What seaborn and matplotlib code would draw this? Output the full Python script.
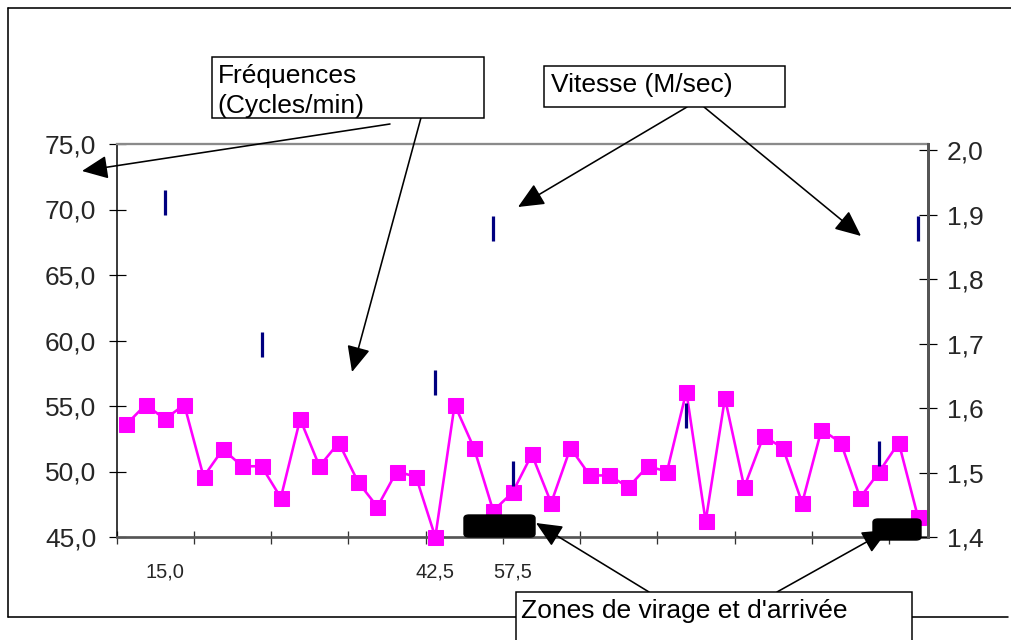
import numpy as np
import pandas as pd
import matplotlib
matplotlib.use("Agg")
import matplotlib.pyplot as plt
import seaborn as sns
from matplotlib.patches import Rectangle, FancyBboxPatch, FancyArrowPatch
from matplotlib.lines import Line2D
from matplotlib.ticker import FuncFormatter

# ---------------- data ----------------
frequences = [53.6, 55.1, 54.0, 55.1, 49.6, 51.7, 50.4, 50.4, 48.0, 54.0,
              50.4, 52.2, 49.2, 47.3, 50.0, 49.6, 45.0, 55.1, 51.8, 47.0,
              48.4, 51.3, 47.6, 51.8, 49.7, 49.7, 48.8, 50.4, 50.0, 56.1,
              46.2, 55.6, 48.8, 52.7, 51.8, 47.6, 53.2, 52.2, 48.0, 50.0,
              52.2, 46.5]
vitesse_idx = [2, 7, 16, 19, 20, 29, 39, 41]
vitesse = [1.92, 1.70, 1.64, 1.88, 1.50, 1.59, 1.53, 1.88]
label_idx = [2, 16, 20]
x_labels = ["15,0", "42,5", "57,5"]
freq_ticks = [45, 50, 55, 60, 65, 70, 75]
speed_ticks = [1.4, 1.5, 1.6, 1.7, 1.8, 1.9, 2.0]

sns.set_style("white")
plt.rcParams["font.family"] = ["Liberation Sans", "DejaVu Sans"]

W, H = 1011, 640
fig = plt.figure(figsize=(W / 100, H / 100), dpi=100)
fig.patch.set_facecolor("white")


def fx(x):
    return x / W


def fy(y):
    return 1 - y / H


PX = 0.72  # px -> pt

ax = fig.add_axes([fx(116.7), fy(537), (927.7 - 116.7) / W, (537 - 144) / H])
n = len(frequences)
df = pd.DataFrame({"i": np.arange(n), "f": frequences})
sns.lineplot(data=df, x="i", y="f", ax=ax, color="#FF00FF", lw=2.6 * PX,
             marker="s", markersize=15 * PX, markeredgecolor="#FF00FF",
             markerfacecolor="#FF00FF", clip_on=False, zorder=3)
ax.set_xlim(-0.5, n - 0.5)
ax.set_ylim(45, 75)
ax.set_xlabel("")
ax.set_ylabel("")

comma = FuncFormatter(lambda v, _: f"{v:.1f}".replace(".", ","))
ax.set_yticks(freq_ticks)
ax.yaxis.set_major_formatter(comma)
ax.tick_params(axis="y", direction="inout", length=17 * PX, width=1.2 * PX,
               color="black", labelsize=19, pad=12 * PX, left=True)
ax.set_xticks(np.arange(-0.5, n, 4))
ax.tick_params(axis="x", which="major", direction="inout", length=13 * PX,
               width=1.3 * PX, color="#333333", labelbottom=False, bottom=True)
ax.set_xticks(label_idx, minor=True)
ax.set_xticklabels(x_labels, minor=True)
ax.tick_params(axis="x", which="minor", length=0, pad=25 * PX, labelsize=14.5)

ax.spines["left"].set_color("black")
ax.spines["left"].set_linewidth(1.5 * PX)
ax.spines["bottom"].set_color("#555555")
ax.spines["bottom"].set_linewidth(2.7 * PX)
ax.spines["top"].set_color("#8a8a8a")
ax.spines["top"].set_linewidth(2.3 * PX)
ax.spines["right"].set_visible(False)

ax2 = ax.twinx()
sns.scatterplot(x=vitesse_idx, y=vitesse, ax=ax2, marker="|", s=(25 * PX) ** 2,
                linewidth=3.2 * PX, color="#000080", zorder=4, legend=False)
ax2.set_ylim(1.4, 2.01)
ax2.set_yticks(speed_ticks)
ax2.yaxis.set_major_formatter(comma)
ax2.tick_params(axis="y", direction="inout", length=18 * PX, width=1.2 * PX,
                color="black", labelsize=19, pad=10 * PX, right=True)
ax2.set_ylabel("")
for s in ["left", "top", "bottom"]:
    ax2.spines[s].set_visible(False)
ax2.spines["right"].set_color("#555555")
ax2.spines["right"].set_linewidth(3 * PX)

# ---------------- outer frame ----------------
for (x0, y0, x1, y1) in [(8, 8, 1011, 8), (8, 8, 8, 617), (8, 617, 1008, 617)]:
    fig.add_artist(Line2D([fx(x0), fx(x1)], [fy(y0), fy(y1)],
                          transform=fig.transFigure, color="black", lw=1.6 * PX))

# ---------------- black zone markers ----------------
for (x0, y0, x1, y1) in [(464, 515, 535, 537), (873, 519, 921, 540)]:
    fig.add_artist(FancyBboxPatch((fx(x0), fy(y1)), fx(x1 - x0), (y1 - y0) / H,
                                  boxstyle="round,pad=0,rounding_size=0.005",
                                  transform=fig.transFigure, facecolor="black",
                                  edgecolor="black", lw=1, zorder=5))

# ---------------- arrows ----------------
arrows = [((390, 124), (82, 171)), ((422, 114), (352, 372)),
          ((687, 107), (518, 207)), ((704, 107), (861, 236)),
          ((649, 592), (536, 523)), ((777, 592), (888, 530))]
for (a, b) in arrows:
    fig.add_artist(FancyArrowPatch((fx(a[0]), fy(a[1])), (fx(b[0]), fy(b[1])),
                                   transform=fig.transFigure,
                                   arrowstyle="-|>,head_length=1.6,head_width=0.72",
                                   mutation_scale=10, lw=1.6 * PX, color="black",
                                   shrinkA=0, shrinkB=0, zorder=6))

# ---------------- text boxes ----------------
boxes = [(212, 57, 484, 118), (544, 66, 785, 107), (516, 592, 912, 660)]
for (x0, y0, x1, y1) in boxes:
    fig.add_artist(Rectangle((fx(x0), fy(y1)), fx(x1 - x0), (y1 - y0) / H,
                             transform=fig.transFigure, facecolor="white",
                             edgecolor="black", lw=1.5 * PX, zorder=7))
texts = [("Fréquences", 218, 83), ("(Cycles/min)", 217, 113),
         ("Vitesse (M/sec)", 551, 92), ("Zones de virage et d'arrivée", 521, 618)]
for (t, x, y) in texts:
    fig.text(fx(x), fy(y), t, fontsize=19, ha="left", va="baseline",
             color="black", zorder=8)

fig.savefig("out.png", dpi=100, facecolor="white")
